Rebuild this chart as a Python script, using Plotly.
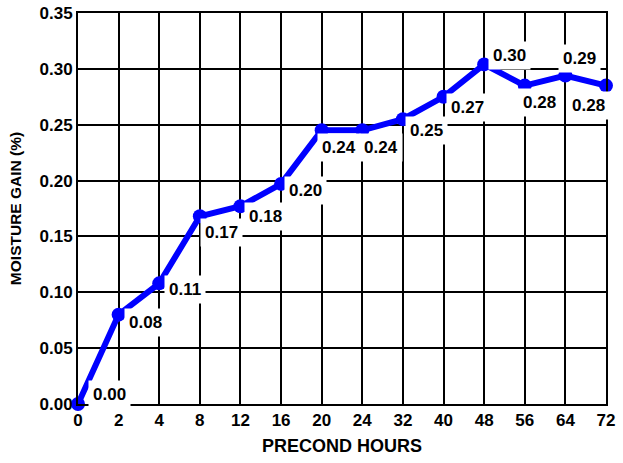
import plotly.graph_objects as go

hours = ["0", "2", "4", "8", "12", "16", "20", "24", "32", "40", "48", "56", "64", "72"]
gain = [0.000, 0.080, 0.108, 0.168, 0.177, 0.197, 0.245, 0.245, 0.255, 0.275, 0.304, 0.285, 0.294, 0.285]
labels = ["0.00", "0.08", "0.11", "0.17", "0.18", "0.20", "0.24", "0.24", "0.25", "0.27", "0.30", "0.28", "0.29", "0.28"]
# label offsets (pixels) relative to each point
label_dx = [31, 27, 26, 22, 25, 24, 17, 19, 24, 24, 25, 15, 14, -18]
label_dy = [10, -8, -6, -16, -10, -7, -17, -17, -11, -11, 9, -17, 17, -20]

FONT = "Liberation Sans"

fig = go.Figure()
fig.add_trace(go.Scatter(
    x=hours, y=gain, mode="lines+markers",
    line=dict(color="#0000FF", width=6),
    marker=dict(color="#0000FF", size=14),
    cliponaxis=False, showlegend=False,
))

for i, (g, t, dx, dy) in enumerate(zip(gain, labels, label_dx, label_dy)):
    fig.add_annotation(
        x=i, y=g, text=t, showarrow=False, xshift=dx, yshift=dy,
        font=dict(family=FONT, size=17, color="black", weight="bold"),
        bgcolor="white", borderpad=4,
    )

fig.update_layout(
    template="none",
    width=623, height=463,
    margin=dict(l=78, r=17, t=13, b=59),
    paper_bgcolor="white", plot_bgcolor="white",
    font=dict(family=FONT, color="black", weight="bold"),
    xaxis=dict(
        type="category", range=[0, 13], automargin=False,
        showgrid=True, gridcolor="black", gridwidth=2,
        showline=True, linecolor="black", linewidth=2, mirror=True,
        ticks="", tickfont=dict(family=FONT, size=17, weight="bold"),
        title=dict(text="PRECOND HOURS", font=dict(family=FONT, size=18, weight="bold"), standoff=10),
        zeroline=False,
    ),
    yaxis=dict(
        range=[0, 0.35], dtick=0.05, tickformat=".2f", automargin=False,
        showgrid=True, gridcolor="black", gridwidth=2,
        showline=True, linecolor="black", linewidth=2, mirror=True,
        ticks="", tickfont=dict(family=FONT, size=17, weight="bold"),
        title=dict(text="MOISTURE GAIN (%)", font=dict(family=FONT, size=15.5, weight="bold"), standoff=14),
        zeroline=False,
    ),
)

fig.write_html("out.html", config={"displayModeBar": False},
               post_script="document.body.style.margin='0px';")
